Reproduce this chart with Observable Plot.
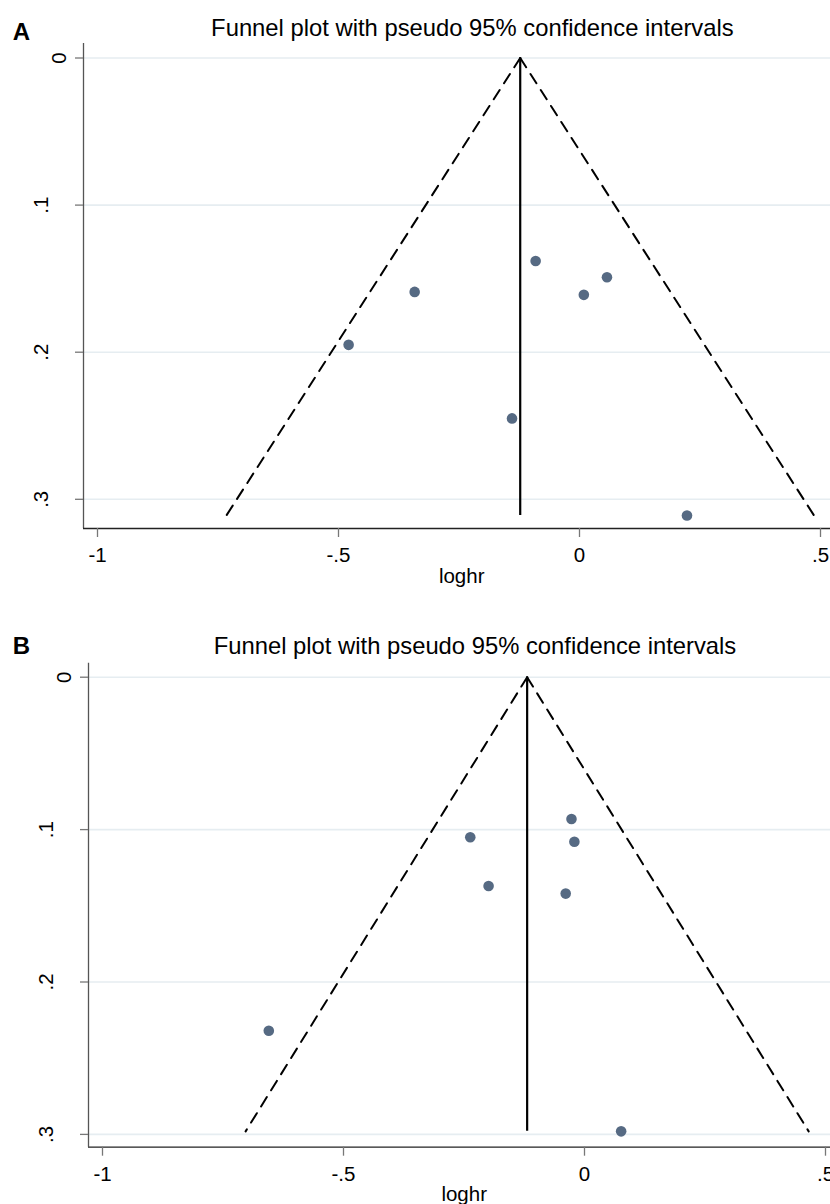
<!DOCTYPE html>
<html><head><meta charset="utf-8">
<script src="https://cdn.jsdelivr.net/npm/d3@7"></script>
<script src="https://cdn.jsdelivr.net/npm/@observablehq/plot@0.6"></script>
<style>
body{margin:0;background:#fff;}
#fig{position:relative;width:830px;height:1204px;overflow:hidden;font-family:"Liberation Sans",Arial,sans-serif;color:#000;background:#fff;}
.abs{position:absolute;line-height:1;white-space:nowrap;}
.title{font-size:23.8px;transform:translateX(-50%);}
.panel{font-size:24px;font-weight:bold;}
</style></head><body><div id="fig"></div>
<script>
// ---- data ----
const titleText = "Funnel plot with pseudo 95% confidence intervals";
const xLabel = "loghr";
const panelLabels = ["A", "B"];
const xTicks = [-1, -0.5, 0, 0.5];
const xTickLabels = ["-1", "-.5", "0", ".5"];
const yTicks = [0, 0.1, 0.2, 0.3];
const yTickLabels = ["0", ".1", ".2", ".3"];

const logHR_A = [-0.091, 0.057, 0.009, -0.342, -0.479, -0.140, 0.223];
const se_A    = [0.138, 0.149, 0.161, 0.159, 0.195, 0.245, 0.311];
const pooled_A = -0.123;

const logHR_B = [-0.237, -0.027, -0.021, -0.199, -0.039, -0.655, 0.076];
const se_B    = [0.105, 0.093, 0.108, 0.137, 0.142, 0.232, 0.298];
const pooled_B = -0.119;

const fig = document.getElementById("fig");
const FONT = "Liberation Sans, Arial, sans-serif";

function funnel({logHR, se, pooled, xDomain, yDomain, marginLeft, marginTop, marginBottom, height}) {
  const pts = logHR.map((x, i) => ({x, se: se[i]}));
  const seMax = d3.max(se);
  const funnelPts = [
    {side: "L", x: pooled, se: 0}, {side: "L", x: pooled - 1.96 * seMax, se: seMax},
    {side: "R", x: pooled, se: 0}, {side: "R", x: pooled + 1.96 * seMax, se: seMax}
  ];
  const lab = d => yTickLabels[yTicks.indexOf(d)];
  return Plot.plot({
    width: 830, height, marginLeft, marginRight: 0, marginTop, marginBottom,
    style: {fontFamily: FONT, fontSize: "20.5px", background: "transparent", overflow: "visible"},
    x: {domain: xDomain, axis: null},
    y: {domain: yDomain, reverse: true, axis: null},
    marks: [
      Plot.ruleY(yTicks, {stroke: "#e6edf1", strokeWidth: 1.6}),
      Plot.ruleX([xDomain[0]], {stroke: "#555", strokeWidth: 1.3}),
      Plot.ruleY([yDomain[1]], {stroke: "#222", strokeWidth: 1.3}),
      Plot.axisY(yTicks, {anchor: "left", tickSize: 8, tickFormat: () => "", stroke: "#777", strokeWidth: 1.3, label: null}),
      Plot.text(yTicks.filter(d => d !== 0), {y: d => d, text: lab, frameAnchor: "left", dx: -36, rotate: -90, lineAnchor: "bottom", textAnchor: "middle", fill: "#000"}),
      Plot.text(yTicks.filter(d => d === 0), {y: d => d, text: lab, frameAnchor: "left", dx: -18, rotate: -90, lineAnchor: "bottom", textAnchor: "middle", fill: "#000"}),
      Plot.axisX(xTicks, {anchor: "bottom", tickSize: 9, tickPadding: 10, tickFormat: d => xTickLabels[xTicks.indexOf(d)], stroke: "#777", strokeWidth: 1.3, fill: "#000", label: null}),
      Plot.text([xLabel], {text: d => d, frameAnchor: "bottom", dy: 54, dx: 4.7, lineAnchor: "bottom", fill: "#000"}),
      Plot.line(funnelPts, {x: "x", y: "se", z: "side", stroke: "#000", strokeWidth: 2, strokeDasharray: "11,8"}),
      Plot.ruleX([pooled], {y1: 0, y2: seMax, stroke: "#000", strokeWidth: 2.2}),
      Plot.dot(pts, {x: "x", y: "se", r: 5.3, fill: "#566a83", stroke: null})
    ]
  });
}

function place(el, top) {
  el.style.position = "absolute";
  el.style.left = "0px";
  el.style.top = top + "px";
  fig.appendChild(el);
}
function addText(cls, text, left, top) {
  const d = document.createElement("div");
  d.className = "abs " + cls;
  d.textContent = text;
  d.style.left = left + "px";
  d.style.top = top + "px";
  fig.appendChild(d);
}

const plotA = funnel({
  logHR: logHR_A, se: se_A, pooled: pooled_A,
  xDomain: [-1.02905, 0.52075], yDomain: [-0.00986, 0.31985],
  marginLeft: 83, marginTop: 43, marginBottom: 72, height: 600
});
place(plotA, 0);

const plotB = funnel({
  logHR: logHR_B, se: se_B, pooled: pooled_B,
  xDomain: [-1.02905, 0.51037], yDomain: [-0.00919, 0.30840],
  marginLeft: 88, marginTop: 62.7, marginBottom: 57.3, height: 604
});
place(plotB, 600);

addText("title", titleText, 472.4, 15.9);
addText("title", titleText, 475, 633.9);
addText("panel", panelLabels[0], 12.7, 19.7);
addText("panel", panelLabels[1], 12.7, 633.7);
</script>
</body></html>
